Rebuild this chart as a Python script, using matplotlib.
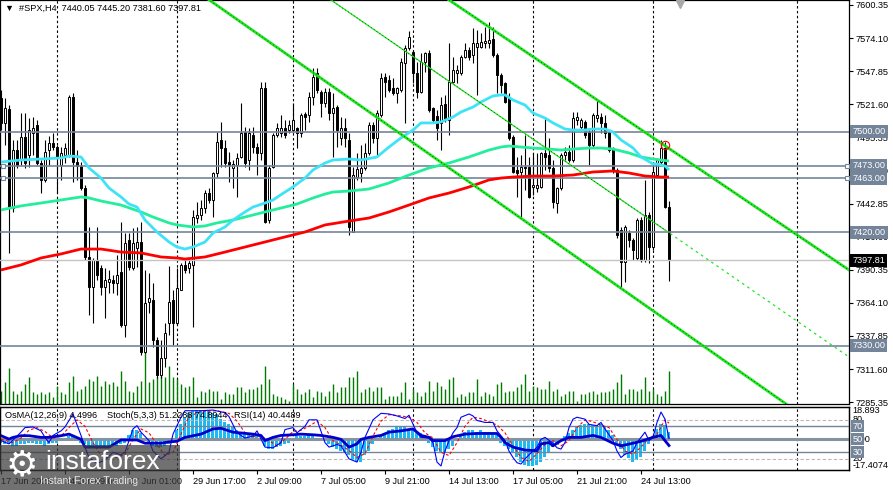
import matplotlib
matplotlib.use("Agg")
import matplotlib.pyplot as plt
import matplotlib.transforms as mtransforms
from matplotlib.patches import Rectangle

plt.rcParams['font.family'] = ['Liberation Sans', 'DejaVu Sans']

opens = [7526.6, 7506.8, 7517.9, 7439.4, 7485.3, 7477.4, 7495.7, 7481.4, 7498.8, 7505.2,
         7475.0, 7461.6, 7485.3, 7490.9, 7487.7, 7473.5, 7481.4, 7481.4, 7527.4, 7475.8,
         7472.7, 7455.2, 7400.5, 7376.7, 7398.1, 7391.8, 7376.7, 7380.7, 7382.3, 7379.9,
         7388.6, 7346.6, 7414.0, 7391.8, 7407.6, 7412.4, 7325.2, 7364.8, 7366.4, 7334.7,
         7306.9, 7320.4, 7348.2, 7366.4, 7348.2, 7374.3, 7394.2, 7391.8, 7394.2, 7431.4,
         7433.8, 7439.4, 7451.2, 7445.7, 7467.1, 7493.3, 7487.0, 7475.8, 7471.1, 7473.5,
         7479.8, 7499.6, 7477.4, 7497.2, 7487.7, 7483.0, 7534.5, 7429.8, 7471.9, 7497.2,
         7498.8, 7502.8, 7501.2, 7501.2, 7502.8, 7498.8, 7513.9, 7513.1, 7527.4, 7546.4,
         7531.3, 7522.6, 7531.3, 7514.7, 7519.4, 7494.9, 7502.8, 7493.3, 7420.3, 7463.9,
         7467.1, 7471.1, 7483.0, 7505.2, 7494.9, 7513.1, 7543.2, 7540.9, 7534.5, 7530.6,
         7532.9, 7554.3, 7566.2, 7563.1, 7546.4, 7531.3, 7555.1, 7562.3, 7518.7, 7512.3,
         7506.8, 7521.8, 7509.1, 7539.3, 7546.4, 7546.4, 7559.1, 7564.7, 7560.7, 7567.0,
         7567.0, 7570.2, 7570.2, 7573.4, 7560.7, 7544.8, 7538.5, 7527.4, 7495.7, 7469.5,
         7467.9, 7471.9, 7471.9, 7456.0, 7455.2, 7456.0, 7483.0, 7481.4, 7471.1, 7443.3,
         7455.2, 7481.4, 7483.8, 7477.4, 7509.1, 7503.6, 7507.6, 7499.6, 7489.3, 7510.7,
         7511.5, 7506.8, 7499.6, 7487.0, 7469.5, 7421.9, 7396.5, 7419.5, 7413.9, 7399.7,
         7429.8, 7398.1, 7433.8, 7408.4, 7465.5, 7475.8, 7487.0, 7440.05]
highs = [7532.9, 7526.6, 7521.0, 7493.3, 7493.3, 7514.7, 7514.7, 7510.7, 7511.5, 7509.1,
         7477.4, 7493.3, 7496.5, 7498.8, 7489.3, 7487.7, 7490.9, 7529.0, 7530.6, 7485.3,
         7475.8, 7457.6, 7424.3, 7399.7, 7424.3, 7394.2, 7391.8, 7390.2, 7386.2, 7402.1,
         7428.3, 7419.5, 7419.5, 7423.5, 7424.3, 7428.3, 7390.2, 7387.8, 7379.9, 7337.1,
         7334.7, 7348.2, 7393.4, 7374.3, 7391.8, 7395.7, 7398.1, 7399.7, 7437.8, 7444.1,
         7445.7, 7453.6, 7455.2, 7467.9, 7499.6, 7507.6, 7493.3, 7483.8, 7477.4, 7483.0,
         7522.6, 7503.6, 7502.8, 7503.6, 7490.9, 7539.3, 7539.3, 7473.5, 7498.8, 7506.8,
         7513.1, 7509.1, 7509.1, 7522.6, 7503.6, 7514.7, 7515.5, 7531.3, 7550.4, 7550.4,
         7532.9, 7534.5, 7534.5, 7530.6, 7521.0, 7511.5, 7510.7, 7498.8, 7471.9, 7483.0,
         7489.3, 7490.9, 7507.6, 7507.6, 7517.1, 7546.4, 7546.4, 7544.8, 7542.4, 7535.3,
         7558.3, 7568.6, 7579.7, 7564.7, 7555.1, 7562.3, 7563.1, 7564.7, 7519.4, 7517.1,
         7527.4, 7529.0, 7570.2, 7559.1, 7552.8, 7560.7, 7570.2, 7567.0, 7582.1, 7580.5,
         7578.1, 7582.9, 7586.9, 7582.9, 7562.3, 7546.4, 7539.3, 7530.6, 7497.2, 7479.8,
         7481.4, 7497.2, 7479.8, 7483.0, 7483.0, 7483.8, 7511.5, 7494.9, 7477.4, 7456.0,
         7483.0, 7487.7, 7489.3, 7515.5, 7515.5, 7510.7, 7509.1, 7502.8, 7514.7, 7525.0,
         7514.7, 7513.1, 7501.2, 7487.7, 7471.1, 7424.3, 7425.9, 7421.9, 7415.6, 7431.4,
         7432.2, 7461.6, 7436.2, 7475.8, 7479.0, 7493.3, 7491.7, 7445.20]
lows = [7501.2, 7489.3, 7403.7, 7436.2, 7471.1, 7473.5, 7471.1, 7471.9, 7481.4, 7473.5,
        7451.2, 7460.0, 7473.5, 7485.3, 7451.2, 7461.6, 7475.0, 7479.8, 7460.0, 7461.6,
        7453.6, 7398.1, 7354.5, 7348.2, 7382.3, 7370.4, 7352.1, 7371.9, 7371.9, 7370.4,
        7345.0, 7337.1, 7390.2, 7390.2, 7392.6, 7322.8, 7324.4, 7356.1, 7329.1, 7304.5,
        7304.5, 7313.3, 7338.6, 7330.7, 7346.6, 7374.3, 7387.8, 7387.8, 7345.0, 7427.5,
        7429.8, 7435.4, 7443.3, 7432.2, 7463.9, 7471.9, 7471.9, 7460.0, 7455.2, 7448.1,
        7479.0, 7471.9, 7469.5, 7483.0, 7465.5, 7477.4, 7427.5, 7427.5, 7471.1, 7495.7,
        7495.7, 7494.9, 7498.8, 7499.6, 7486.9, 7495.7, 7501.2, 7507.6, 7521.0, 7530.6,
        7511.5, 7519.4, 7509.1, 7479.8, 7487.7, 7489.3, 7487.7, 7417.9, 7420.3, 7461.6,
        7460.0, 7469.5, 7481.4, 7490.9, 7479.8, 7511.5, 7527.4, 7531.3, 7529.0, 7522.6,
        7531.3, 7506.8, 7564.7, 7538.5, 7526.6, 7530.6, 7547.2, 7515.5, 7507.6, 7493.3,
        7485.3, 7507.6, 7497.2, 7538.5, 7538.5, 7544.8, 7558.3, 7556.7, 7554.3, 7529.0,
        7566.2, 7566.2, 7566.2, 7559.1, 7530.6, 7530.6, 7522.6, 7493.3, 7467.1, 7448.1,
        7431.4, 7453.6, 7447.3, 7449.6, 7452.0, 7455.2, 7469.5, 7467.9, 7439.4, 7435.4,
        7453.6, 7477.4, 7475.8, 7475.8, 7505.2, 7501.2, 7494.9, 7473.5, 7487.7, 7507.6,
        7498.8, 7494.9, 7483.8, 7467.1, 7415.6, 7375.9, 7380.7, 7408.4, 7398.1, 7398.1,
        7396.5, 7396.5, 7395.7, 7406.0, 7463.1, 7473.5, 7439.4, 7381.60]
closes = [7506.8, 7518.7, 7439.4, 7485.3, 7473.5, 7495.7, 7475.0, 7501.2, 7502.8, 7475.0,
          7461.6, 7483.8, 7490.9, 7487.7, 7479.0, 7483.0, 7487.0, 7527.4, 7475.8, 7472.7,
          7455.2, 7400.5, 7376.7, 7398.1, 7386.2, 7376.7, 7382.3, 7383.1, 7379.9, 7386.2,
          7346.6, 7411.6, 7392.6, 7411.6, 7412.4, 7325.2, 7364.0, 7368.0, 7334.7, 7306.9,
          7320.4, 7340.2, 7364.8, 7348.2, 7375.9, 7394.2, 7390.2, 7395.7, 7432.2, 7433.8,
          7439.4, 7451.2, 7445.7, 7467.1, 7491.7, 7487.0, 7475.0, 7473.5, 7474.3, 7479.0,
          7498.8, 7475.0, 7498.8, 7487.7, 7483.0, 7534.5, 7428.3, 7471.1, 7497.2, 7502.8,
          7502.8, 7497.2, 7505.2, 7509.1, 7498.8, 7513.1, 7511.5, 7527.4, 7543.2, 7532.9,
          7522.6, 7531.3, 7514.7, 7518.7, 7501.2, 7502.8, 7494.9, 7424.3, 7465.5, 7470.3,
          7471.1, 7483.0, 7505.2, 7494.9, 7514.7, 7542.4, 7539.3, 7532.9, 7530.6, 7534.5,
          7555.1, 7566.2, 7575.0, 7546.4, 7531.3, 7555.1, 7562.3, 7517.1, 7509.1, 7502.8,
          7521.0, 7509.1, 7539.3, 7548.8, 7548.8, 7559.1, 7564.7, 7559.1, 7570.2, 7570.2,
          7571.0, 7571.8, 7572.6, 7560.7, 7544.8, 7536.9, 7523.4, 7494.9, 7467.9, 7467.1,
          7471.9, 7471.1, 7448.1, 7457.6, 7457.6, 7483.0, 7479.8, 7471.1, 7444.1, 7455.2,
          7481.4, 7483.8, 7477.4, 7510.7, 7511.5, 7509.1, 7497.2, 7489.3, 7513.1, 7513.1,
          7506.8, 7498.8, 7485.3, 7469.5, 7417.9, 7396.5, 7424.3, 7413.9, 7406.0, 7429.8,
          7398.1, 7433.8, 7408.4, 7467.9, 7477.4, 7487.0, 7440.1, 7397.81]
volumes = [1300, 2200, 3600, 1300, 1000, 1300, 2000, 2700, 1200, 1000, 1200, 1000, 1200, 700,
           1800, 1200, 1000, 2200, 2800, 1300, 1500, 1800, 2500, 2300, 2800, 1800, 2300, 2000,
           2200, 1800, 3300, 2300, 1300, 1200, 1800, 2300, 5200, 2200, 2500, 2700, 2800, 2700,
           3800, 2700, 2500, 2000, 1700, 1800, 2700, 700, 1300, 1200, 1500, 1300, 1300, 500,
           1200, 1000, 1000, 1700, 1700, 1200, 1500, 1500, 1700, 2000, 3800, 2500, 1000, 800,
           700, 500, 300, 2000, 1500, 1000, 1200, 1500, 700, 1300, 1200, 800, 1300, 2000,
           1200, 1700, 1700, 2700, 2700, 3300, 1200, 1500, 1700, 1300, 1700, 1700, 500, 800,
           800, 800, 1200, 2200, 500, 1500, 1200, 800, 1200, 2300, 1300, 2200, 1800, 1500,
           2500, 2700, 700, 1000, 800, 1200, 1200, 2500, 800, 1200, 1000, 800,
           2000, 2200, 1200, 1300, 1300, 1700, 2000, 3000, 1300, 1800, 1700, 1500, 1500, 2300,
           1300, 1500, 800, 1000, 1300, 1300, 300, 1000, 1000, 1200, 1300, 1000, 1200, 1200,
           1300, 1500, 2200, 3000, 1000, 1500, 1500, 1300, 1500, 2700, 1300, 1500, 1000, 800,
           1300, 3300]

cyan_bars = [0, 5, 10, 15, 17, 20, 22, 25, 27, 30, 32, 34, 36, 39, 42, 44, 46, 48, 51, 53,
             56, 58, 61, 63, 66, 68, 71, 73, 76, 78, 81, 83, 87, 90, 94, 97, 100, 103, 105, 108,
             110, 113, 115, 118, 120, 123, 125, 126, 128, 131, 133, 136, 138, 141, 143, 146, 148,
             151, 153, 155, 158, 160, 163, 164, 166, 167]
cyan_vals = [7475.8, 7477.4, 7478.2, 7479.0, 7480.6, 7479.8, 7471.1, 7463.1, 7455.2, 7448.1,
             7442.5, 7440.1, 7429.8, 7420.3, 7412.4, 7408.4, 7406.8, 7408.4, 7412.4, 7419.5,
             7424.3, 7429.8, 7436.2, 7440.1, 7443.3, 7445.7, 7452.0, 7456.0, 7463.1, 7469.5,
             7475.0, 7477.4, 7478.2, 7477.4, 7479.8, 7487.7, 7494.9, 7501.2, 7506.8, 7506.8,
             7507.6, 7511.5, 7515.5, 7519.4, 7523.4, 7528.2, 7529.0, 7529.0, 7525.0, 7521.0,
             7514.7, 7510.7, 7506.8, 7502.0, 7501.2, 7501.2, 7502.0, 7502.0, 7499.6, 7493.3,
             7487.0, 7479.8, 7474.3, 7474.3, 7472.7, 7469.5]
green_bars = [0, 5, 10, 15, 20, 22, 25, 30, 35, 38, 42, 44, 48, 51, 54, 58, 61, 64, 68, 71,
              74, 78, 81, 83, 87, 92, 97, 102, 107, 112, 117, 122, 125, 127, 130, 133, 137, 140,
              143, 147, 150, 153, 157, 160, 163, 167]
green_vals = [7437.8, 7441.0, 7443.3, 7445.7, 7448.1, 7447.3, 7444.9, 7441.7, 7436.2, 7432.2,
              7427.5, 7425.9, 7424.3, 7425.1, 7427.5, 7429.8, 7432.2, 7434.6, 7437.8, 7440.1,
              7442.5, 7447.3, 7450.4, 7452.0, 7452.8, 7454.4, 7459.2, 7465.5, 7471.1, 7475.0,
              7479.8, 7485.3, 7487.7, 7488.5, 7487.7, 7486.9, 7486.1, 7485.3, 7486.1, 7486.9,
              7486.9, 7486.1, 7483.0, 7479.8, 7478.2, 7476.6]
red_bars = [0, 5, 10, 15, 20, 25, 30, 35, 40, 44, 46, 51, 56, 61, 66, 71, 76, 81, 87, 92,
            97, 102, 107, 112, 117, 122, 125, 128, 133, 138, 143, 148, 153, 157, 161, 165, 167]
red_vals = [7390.2, 7394.2, 7399.7, 7402.9, 7406.8, 7406.8, 7404.4, 7403.7, 7400.5, 7399.7,
            7398.9, 7400.5, 7404.4, 7408.4, 7412.4, 7416.4, 7420.3, 7425.9, 7429.0, 7431.4,
            7436.2, 7441.7, 7447.3, 7451.2, 7456.0, 7461.6, 7463.1, 7463.9, 7464.7, 7464.7,
            7465.5, 7467.9, 7468.7, 7467.1, 7464.7, 7463.9, 7463.9]

# channel lines: (bar, price) end points
upper_line = ([112, 212], [7604.3, 7390.2])
lower_line = ([51, 198], [7606.7, 7280.1])
mid_line = ([82.5, 166], [7604.3, 7421.9])
mid_ext = ([166, 212], [7421.9, 7321.2])

levels = [7500.00, 7473.00, 7463.00, 7420.00, 7330.00]
bid = 7397.81
price_ticks = [7600.35, 7574.10, 7547.85, 7521.60, 7495.35, 7469.10, 7442.85,
               7416.60, 7390.35, 7364.10, 7337.85, 7311.60, 7285.35]
sep_bars = [14, 44, 73, 103, 133, 163, 199]
label_bars = [0, 16, 32, 48, 64, 80, 96, 112, 128, 144, 160]
label_texts = ["17 Jun 2025", "24 Jun 09:00", "27 Jun 01:00", "29 Jun 17:00", "2 Jul 09:00",
               "7 Jul 05:00", "9 Jul 21:00", "14 Jul 13:00", "17 Jul 05:00", "21 Jul 21:00",
               "24 Jul 13:00"]

osma = [-2, -3, -3, -4, -4, -3, -3, -2, -2, -3, -3, -4, -3, -2, -2, -1,
        1, 2, 2, 0,
        -2, -3, -4, -4, -5, -5, -5, -5, -4, -4, -3, -2,
        3, 6, 6, 4,
        -1, -3, -4, -5, -5, -4, -3, -1,
        6, 10, 14, 17, 18, 19, 19, 18, 18, 17, 16, 13, 11, 10, 8, 6, 5, 4, 4, 4, 3, 1,
        -4, -6, -6, -5, -4, -3,
        -2, 1, 2, 2, 2, 3, 2, 1, 0,
        -1, -3, -5, -6, -7,
        -8, -10, -13, -14,
        -14, -10,
        -7, -3, -1,
        2, 4, 6, 7, 8, 8, 8,
        7, 6, 5, 4, 3,
        -2, -5, -7, -8,
        -8, -6, -4,
        0, 3,
        5, 6, 6, 5, 6, 5, 5, 4,
        3, -2, -4, -6,
        -8, -11, -14, -16, -17, -17, -16,
        -14, -11, -8, -5,
        -2, 1,
        2, 4, 6, 8, 9, 10, 10, 9, 9, 10,
        8, 6, 3,
        -2, -6, -10, -12, -14, -13, -11,
        -7, -3,
        2, 7, 10, 9, 4.4996]

st_bars = [0, 2, 5, 6, 8, 10, 11, 12, 13, 15, 16, 17, 18, 20, 21, 22, 24, 26, 28, 30, 31, 33,
           34, 35, 37, 38, 40, 42, 43, 45, 46, 50, 53, 56, 57, 59, 61, 63, 64, 66, 68, 70, 71,
           73, 74, 76, 77, 79, 81, 82, 84, 85, 87, 89, 90, 91, 93, 95, 97, 99, 101, 102, 104,
           105, 107, 108, 109, 110, 111, 112, 113, 114, 115, 117, 118, 119, 121, 123, 124, 126,
           127, 128, 129, 130, 131, 133, 134, 135, 136, 138, 139, 140, 141, 142, 143, 144, 146,
           147, 149, 150, 151, 153, 154, 155, 156, 158, 159, 160, 161, 162, 163, 164, 165, 166,
           167]
st_vals = [48, 43, 61, 68, 69, 63, 53, 45, 56, 63, 69, 79, 89, 56, 38, 22, 13, 18, 30, 26, 30, 66,
           71, 61, 48, 32, 20, 30, 58, 84, 94, 94, 95, 91, 85, 60, 52, 55, 63, 38, 37, 45, 65,
           68, 60, 70, 80, 80, 45, 38, 42, 40, 20, 15, 30, 53, 80, 90, 89, 86, 82, 87, 60,
           53, 52, 45, 15, 9, 32, 48, 60, 68, 84, 89, 86, 79, 76, 76, 63, 48,
           32, 22, 14, 12, 20, 32, 38, 50, 53, 44, 37, 35, 45, 68, 81, 84, 81,
           73, 71, 76, 66, 48, 32, 22, 27, 32, 45, 53, 61, 48, 53, 76, 92, 81,
           51.2288]
sig_bars = [0, 3, 5, 7, 9, 11, 13, 15, 17, 19, 21, 23, 25, 28, 31, 33, 35, 37, 39, 41, 43, 45,
            47, 50, 54, 57, 59, 61, 63, 65, 67, 69, 71, 73, 75, 77, 79, 81, 83, 85, 87, 89, 91,
            93, 95, 97, 100, 102, 104, 106, 108, 110, 112, 114, 116, 118, 120, 122, 124, 126,
            128, 130, 132, 134, 136, 138, 140, 142, 144, 146, 148, 150, 152, 154, 156, 158, 160,
            162, 164, 166, 167]
sig_vals = [50, 45, 52, 64, 68, 62, 52, 55, 68, 80, 70, 45, 25, 20, 27, 50, 66, 60, 42, 25, 30, 58,
            85, 93, 94, 90, 78, 60, 54, 55, 48, 40, 50, 62, 64, 70, 78, 68, 48, 41, 33, 22, 28,
            55, 78, 88, 86, 84, 76, 60, 52, 30, 25, 45, 70, 84, 82, 77, 72, 60,
            40, 22, 16, 28, 42, 48, 40, 48, 68, 80, 77, 72, 68, 50, 32, 27, 38,
            52, 58, 80, 74.8944]
rsi_bars = [0, 2, 3, 5, 7, 10, 12, 15, 17, 20, 21, 24, 27, 30, 34, 36, 40, 42, 44, 46, 50, 53,
            55, 58, 63, 65, 66, 68, 70, 73, 75, 78, 80, 83, 85, 87, 89, 90, 92, 95, 97, 100, 103,
            105, 107, 108, 111, 113, 116, 119, 124, 125, 126, 128, 131, 134, 135, 137, 138, 140,
            142, 145, 148, 150, 153, 155, 158, 160, 163, 165, 166, 167]
rsi_vals = [55.6, 50.4, 53, 55.6, 55.6, 53, 53, 55.6, 58, 50, 38, 38, 38, 49, 49, 44, 44, 46, 47,
            53, 58, 66, 67, 61, 58, 56, 48, 53, 56, 57, 58, 57, 56, 53, 50, 38, 43, 50, 53, 56,
            61, 63, 66, 56, 53, 48, 48, 54, 58, 59, 59, 53, 45, 38, 33.5, 32.5, 43, 45, 40, 48,
            53, 53, 56, 53, 44, 40, 44, 47, 53, 56, 48, 40.4489]

W, H = 893, 490
fig = plt.figure(figsize=(W / 100, H / 100), dpi=100)
ax = fig.add_axes([0, 86 / H, 849 / W, 404 / H])
ax_o = fig.add_axes([0, 20 / H, 849 / W, 63.5 / H])
ax_s = ax_o.twinx()

level_col = '#74859A'
xs = list(range(len(closes)))

# candles
ax.vlines(xs, lows, highs, color='black', lw=0.8, zorder=3)
bottoms = [min(o, c) for o, c in zip(opens, closes)]
heights = [max(abs(c - o), 0.5) for o, c in zip(opens, closes)]
faces = ['white' if c >= o else 'black' for o, c in zip(opens, closes)]
ax.bar(xs, heights, bottom=bottoms, width=0.6, color=faces, edgecolor='black', lw=0.7, zorder=4)

# tick volumes at the bottom of the price window
vol_tr = mtransforms.blended_transform_factory(
    ax.transData, mtransforms.Affine2D().scale(1, 1 / 40400) + ax.transAxes)
ax.vlines(xs, 0, volumes, color='#007A00', lw=1.0, transform=vol_tr, zorder=2)

# moving averages
ax.plot(red_bars, red_vals, color='#FF0000', lw=2.0, zorder=6, solid_capstyle='butt')
ax.plot(green_bars, green_vals, color='#22EE9C', lw=2.0, zorder=6, solid_capstyle='butt')
ax.plot(cyan_bars, cyan_vals, color='#3FE3F6', lw=2.0, zorder=6, solid_capstyle='butt')

# levels
for lv in levels:
    ax.axhline(lv, color=level_col, lw=1.2, zorder=5)
ax.axhline(bid, color='#C4C4C4', lw=1.0, zorder=5)
for lv in [7473.00, 7463.00]:
    ax.plot([0.6, 211.4], [lv, lv], 's', ms=3.2, mfc='white', mec=level_col, mew=0.8,
            zorder=7, clip_on=False)

# channel
for ln in [upper_line, lower_line]:
    ax.plot(ln[0], ln[1], color='#1EE61E', lw=2.0, zorder=7)
    ax.plot(ln[0], ln[1], color='black', lw=0.5, ls=(0, (1, 4)), zorder=8)
ax.plot(mid_line[0], mid_line[1], color='#1EE61E', lw=0.9, zorder=7)
ax.plot(mid_line[0], mid_line[1], color='black', lw=0.5, ls=(0, (1, 4)), zorder=8)
ax.plot(mid_ext[0], mid_ext[1], color='#1EE61E', lw=0.9, ls=(0, (2, 3)), zorder=7)

ax.plot(166, 7489.5, 'o', ms=6, mfc='none', mec='red', mew=0.8, zorder=9)

for b in sep_bars:
    ax.axvline(b, color='black', lw=0.8, ls=(0, (2.2, 2.2)), zorder=1)
    ax_o.axvline(b, color='black', lw=0.8, ls=(0, (2.2, 2.2)), zorder=1)

ax.set_xlim(-0.25, 212)
ax.set_ylim(7283.9, 7604.3)
ax.set_xticks([])
ax.yaxis.tick_right()
ax.set_yticks(price_ticks)
ax.set_yticklabels([f"{p:.2f}" for p in price_ticks])
ax.tick_params(axis='y', direction='out', length=3, pad=2, labelsize=6.6)

ytr = mtransforms.blended_transform_factory(ax.transAxes, ax.transData)
for lv in levels:
    ax.text(1.004, lv, f"{lv:.2f}", transform=ytr, ha='left', va='center', fontsize=6.6,
            color='white', zorder=10,
            bbox=dict(boxstyle='square,pad=0.22', fc=level_col, ec='none'))
ax.text(1.004, bid, f"{bid:.2f}", transform=ytr, ha='left', va='center', fontsize=6.6,
        color='white', zorder=10, bbox=dict(boxstyle='square,pad=0.22', fc='black', ec='none'))

ax.text(0.006, 1 - 8 / 404, "\u25bc  #SPX,H4  7440.05 7445.20 7381.60 7397.81",
        transform=ax.transAxes, ha='left', va='center', fontsize=6.6, color='black')
top_tr = mtransforms.blended_transform_factory(ax.transData, ax.transAxes)
ax.plot(169.75, 0.99, marker='v', ms=6, color='#A8A8A8', transform=top_tr,
        clip_on=False, zorder=9)

# indicator window
ax_o.bar(xs, osma, width=0.75, color='#1CB9F2', zorder=2)
ax_o.set_ylim(-19.4, 21.0)
ax_s.set_ylim(2.8, 100.5)
ax_o.set_xlim(-0.25, 212)

ax_s.axhline(80, color='#B8B8B8', lw=0.8, ls=(0, (3, 2)))
ax_s.axhline(20, color='#B8B8B8', lw=0.8, ls=(0, (3, 2)))
ax_s.axhline(70, color=level_col, lw=1.0)
ax_s.axhline(30, color=level_col, lw=1.0)
ax_s.axhline(50, color='#8592A1', lw=2.2)
ax_s.plot(sig_bars, sig_vals, color='#FF0000', lw=0.8, ls=(0, (2.5, 2)))
ax_s.plot(st_bars, st_vals, color='#0000FF', lw=0.8)
ax_s.plot(rsi_bars, rsi_vals, color='#0000CD', lw=2.0)

ax_o.set_yticks([])
ax_s.set_yticks([])
ax_o.set_xticks(label_bars)
ax_o.set_xticklabels(label_texts, ha='left', fontsize=6.6)
ax_o.tick_params(axis='x', direction='out', length=3, pad=2)

otr = mtransforms.blended_transform_factory(ax_o.transAxes, ax_o.transData)
str_ = mtransforms.blended_transform_factory(ax_s.transAxes, ax_s.transData)
ax_o.text(1.004, 18.4, "18.893", transform=otr, ha='left', va='center', fontsize=6.6, clip_on=False)
ax_o.text(1.004, 0, "0.00", transform=otr, ha='left', va='center', fontsize=6.6, clip_on=False)
ax_o.text(1.004, -16.6, "-17.4074", transform=otr, ha='left', va='center', fontsize=6.6,
          clip_on=False)
ax_s.text(1.004, 80, "80", transform=str_, ha='left', va='center', fontsize=6.6)
ax_s.text(1.004, 20, "20", transform=str_, ha='left', va='center', fontsize=6.6)
for lv in [70, 50, 30]:
    ax_s.text(1.004, lv, str(lv), transform=str_, ha='left', va='center', fontsize=6.6,
              color='white', zorder=10,
              bbox=dict(boxstyle='square,pad=0.15', fc=level_col, ec='none'))

ax_s.text(5 / 849, 0.86, "OsMA(12,26,9) 4.4996", transform=ax_s.transAxes, fontsize=6.6,
          va='center', ha='left')
ax_s.text(107 / 849, 0.86, "Stoch(5,3,3) 51.2288 74.8944", transform=ax_s.transAxes,
          fontsize=6.6, va='center', ha='left')
ax_s.text(234 / 849, 0.86, "RSI(14) 40.4489", transform=ax_s.transAxes, fontsize=6.6,
          va='center', ha='left')

for a in [ax, ax_o, ax_s]:
    for sp in a.spines.values():
        sp.set_color('black')
        sp.set_linewidth(0.9)

# watermark
fig.add_artist(Rectangle((0, 0), 180 / W, 45 / H, transform=fig.transFigure,
                         fc='#3A3A3A', ec='none', alpha=0.72, zorder=20))
fig.text(22 / W, (H - 465) / H, "\u2699", fontsize=26, color='white', ha='center',
         va='center', family='DejaVu Sans', zorder=21)
fig.text(45 / W, (H - 462) / H, "instaforex", fontsize=19, color='white', ha='left',
         va='center', zorder=21)
fig.text(40 / W, (H - 481) / H, "Instant Forex Trading", fontsize=7.5, color='#E6E6E6',
         ha='left', va='center', zorder=21)

fig.savefig("out.png", dpi=100)
